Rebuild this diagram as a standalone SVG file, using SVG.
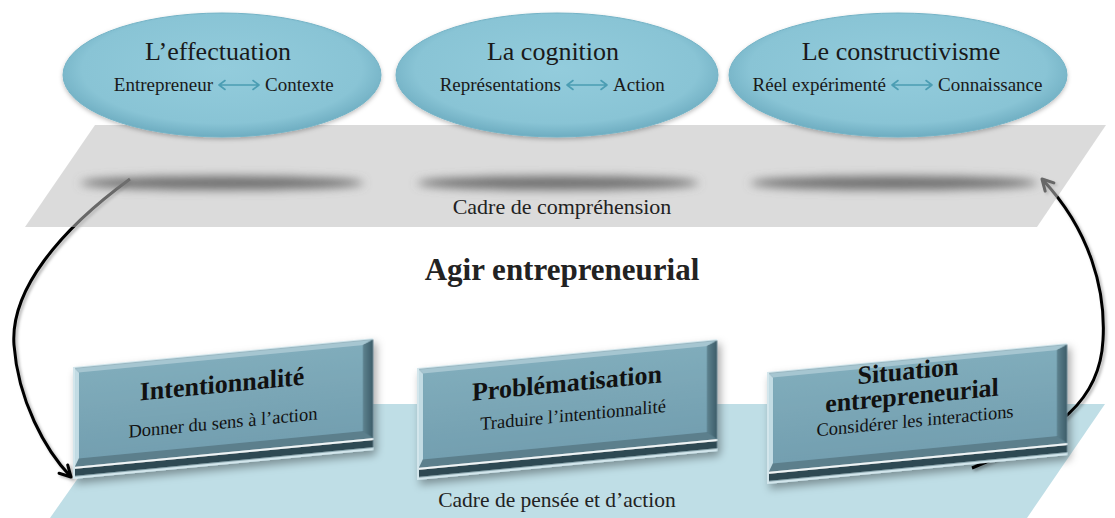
<svg xmlns="http://www.w3.org/2000/svg" xmlns:xlink="http://www.w3.org/1999/xlink" width="1115" height="518" viewBox="0 0 1115 518">
<style>
.tt{font-family:"Liberation Serif","Times New Roman",serif;font-size:26px;fill:#1a1a1a;text-anchor:middle}
.ts{font-family:"Liberation Serif","Times New Roman",serif;font-size:19px;fill:#1a1a1a}
.bt{font-family:"Liberation Serif","Times New Roman",serif;font-size:26px;font-weight:bold;fill:#111;text-anchor:middle}
.bs{font-family:"Liberation Serif","Times New Roman",serif;font-size:18.5px;fill:#111;text-anchor:middle}
.lbl{font-family:"Liberation Serif","Times New Roman",serif;fill:#222;text-anchor:middle}
.ell{fill:url(#eg);stroke:#74b3c6;stroke-width:1;filter:url(#es)}
.ta{fill:none;stroke:#4b9db3;stroke-width:1.6;stroke-linecap:round;stroke-linejoin:round}
.sh{fill:#6f6f6f;filter:url(#bl)}
.arr{fill:none;stroke:#000;stroke-width:3;marker-end:url(#ah);filter:url(#as)}
</style>
<defs>
<radialGradient id="eg" cx="50%" cy="45%" r="55%">
<stop offset="0" stop-color="#93ccdc"/>
<stop offset="0.8" stop-color="#89c4d5"/>
<stop offset="1" stop-color="#6eadc1"/>
</radialGradient>
<linearGradient id="face" x1="0" y1="0" x2="0" y2="1">
<stop offset="0" stop-color="#80acbb"/>
<stop offset="1" stop-color="#739fb0"/>
</linearGradient>
<linearGradient id="rb" x1="0" y1="0" x2="1" y2="0">
<stop offset="0" stop-color="#5e828f"/>
<stop offset="1" stop-color="#3c5c68"/>
</linearGradient>
<filter id="bl" x="-20%" y="-300%" width="140%" height="700%"><feGaussianBlur stdDeviation="5"/></filter>
<filter id="es" x="-10%" y="-10%" width="120%" height="130%"><feDropShadow dx="0" dy="2" stdDeviation="2" flood-color="#000" flood-opacity="0.25"/></filter>
<filter id="ds" x="-10%" y="-15%" width="125%" height="140%"><feDropShadow dx="3" dy="5" stdDeviation="4" flood-color="#000" flood-opacity="0.35"/></filter>
<filter id="as" x="-20%" y="-20%" width="140%" height="140%"><feDropShadow dx="2" dy="2" stdDeviation="1.5" flood-color="#000" flood-opacity="0.3"/></filter>
<marker id="ah" viewBox="0 0 16 16" refX="14" refY="8" markerWidth="16" markerHeight="16" markerUnits="userSpaceOnUse" orient="auto">
<path d="M3,2 L14,8 L3,14" fill="none" stroke="#000" stroke-width="3" stroke-linecap="round" stroke-linejoin="round"/>
</marker>
<g id="bx">
<rect x="0" y="0" width="300" height="112" fill="#d3e6ec"/>
<rect x="2" y="1.5" width="298" height="108" fill="#4b6e7b"/>
<polygon points="2,1.5 300,1.5 290,6 6,6" fill="#a6c6d1"/>
<polygon points="2,1.5 6,6 6,92 2,100" fill="#c3dce4"/>
<polygon points="300,1.5 290,6 290,92 300,100" fill="url(#rb)"/>
<polygon points="6,92 290,92 300,100 2,100" fill="#5b7f8c"/>
<rect x="2" y="100" width="298" height="2" fill="#eef5f7"/>
<rect x="2" y="102" width="298" height="7" fill="#2e4852"/>
<rect x="6" y="6" width="284" height="86" fill="url(#face)"/>
</g>
</defs>
<rect width="1115" height="518" fill="#fff"/>
<polygon id="bande-action" points="130,404 1105,404 1027,518 50,518" fill="#bfdee6"/>
<g id="connectors">
<path class="arr" d="M130,179 C60,230 10,290 14,345 C18,400 45,450 71,477"/>
<path class="arr" d="M972,468 C1060,432 1100,400 1103,340 C1106,290 1090,230 1042,179"/>
</g>
<polygon id="bande-comprehension" points="95,125 1106,125 1037,227 25,227" fill="#bdbdbd" fill-opacity="0.55"/>
<ellipse class="sh" cx="222" cy="183" rx="142" ry="7"/>
<ellipse class="sh" cx="558" cy="183" rx="141" ry="7"/>
<ellipse class="sh" cx="894" cy="183" rx="144" ry="7"/>
<text class="lbl" x="562" y="214" font-size="22">Cadre de compréhension</text>
<g id="effectuation">
<ellipse class="ell" cx="222" cy="75" rx="159" ry="62"/>
<text class="tt" x="218" y="60">L’effectuation</text>
<text class="ts" x="213" y="91" text-anchor="end">Entrepreneur</text>
<path class="ta" d="M219,85 H259 M225,80.5 L219,85 L225,89.5 M253,80.5 L259,85 L253,89.5"/>
<text class="ts" x="265" y="91">Contexte</text>
</g>
<g id="cognition">
<ellipse class="ell" cx="557" cy="75" rx="161" ry="62"/>
<text class="tt" x="553" y="60">La cognition</text>
<text class="ts" x="561" y="91" text-anchor="end">Représentations</text>
<path class="ta" d="M567,85 H607 M573,80.5 L567,85 L573,89.5 M601,80.5 L607,85 L601,89.5"/>
<text class="ts" x="613" y="91">Action</text>
</g>
<g id="constructivisme">
<ellipse class="ell" cx="898" cy="75" rx="169" ry="62"/>
<text class="tt" x="901" y="60">Le constructivisme</text>
<text class="ts" x="886" y="91" text-anchor="end">Réel expérimenté</text>
<path class="ta" d="M892,85 H932 M898,80.5 L892,85 L898,89.5 M926,80.5 L932,85 L926,89.5"/>
<text class="ts" x="938" y="91">Connaissance</text>
</g>
<text id="agir" class="lbl" x="562" y="280" font-size="31" font-weight="bold" fill="#111">Agir entrepreneurial</text>
<text class="lbl" x="557" y="507" font-size="21.5">Cadre de pensée et d’action</text>
<g id="intentionnalite" transform="translate(73,367) skewY(-5.5)">
<use xlink:href="#bx" href="#bx" filter="url(#ds)"/>
<text class="bt" x="149" y="40">Intentionnalité</text>
<text class="bs" x="150" y="76">Donner du sens à l’action</text>
</g>
<g id="problematisation" transform="translate(417,368) skewY(-5.5)">
<use xlink:href="#bx" href="#bx" filter="url(#ds)"/>
<text class="bt" x="150" y="38">Problématisation</text>
<text class="bs" x="156" y="68">Traduire l’intentionnalité</text>
</g>
<g id="situation" transform="translate(767,372) skewY(-5.5)">
<use xlink:href="#bx" href="#bx" filter="url(#ds)"/>
<text class="bt" x="141" y="21">Situation</text>
<text class="bt" x="145" y="46">entrepreneurial</text>
<text class="bs" x="148" y="69" font-size="21px">Considérer les interactions</text>
</g>
</svg>
